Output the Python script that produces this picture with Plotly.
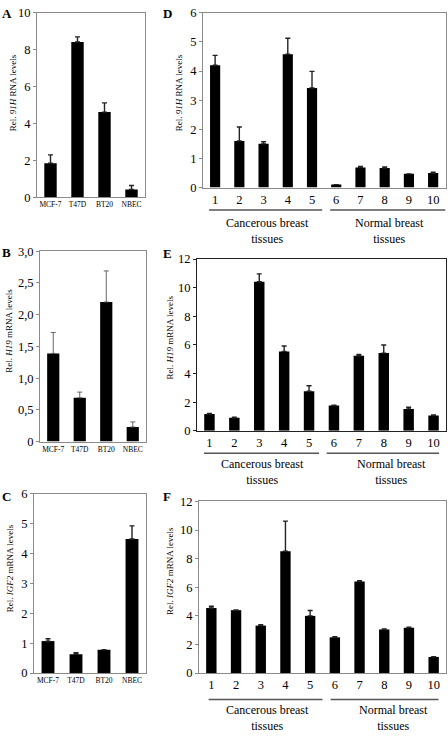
import plotly.graph_objects as go

# ---------------- data ----------------
cell_lines = ["MCF-7", "T47D", "BT20", "NBEC"]
tissues = ["1", "2", "3", "4", "5", "6", "7", "8", "9", "10"]

a_91h = [1.85, 8.42, 4.62, 0.42]
a_91h_err = [0.45, 0.28, 0.50, 0.22]

b_h19 = [1.39, 0.69, 2.20, 0.23]
b_h19_err = [0.33, 0.09, 0.49, 0.08]

c_igf2 = [1.07, 0.63, 0.78, 4.48]
c_igf2_err = [0.08, 0.05, 0.0, 0.44]

d_91h = [4.20, 1.60, 1.50, 4.58, 3.42, 0.10, 0.69, 0.67, 0.47, 0.50]
d_91h_err = [0.34, 0.48, 0.07, 0.55, 0.57, 0.0, 0.03, 0.04, 0.0, 0.03]

e_h19 = [1.17, 0.91, 10.42, 5.55, 2.77, 1.76, 5.24, 5.43, 1.53, 1.07]
e_h19_err = [0.04, 0.04, 0.55, 0.38, 0.38, 0.03, 0.09, 0.57, 0.12, 0.04]

f_igf2 = [4.55, 4.40, 3.32, 8.52, 4.00, 2.50, 6.41, 3.05, 3.17, 1.13]
f_igf2_err = [0.12, 0.02, 0.06, 2.10, 0.38, 0.04, 0.05, 0.03, 0.04, 0.02]

ticks_a = [0, 2, 4, 6, 8, 10]
ticks_b = [0, 0.5, 1.0, 1.5, 2.0, 2.5, 3.0]
ticks_b_text = ["0", "0,5", "1,0", "1,5", "2,0", "2,5", "3,0"]
ticks_c = [0, 1, 2, 3, 4, 5, 6]
ticks_d = [0, 1, 2, 3, 4, 5, 6]
ticks_ef = [0, 2, 4, 6, 8, 10, 12]

group_labels = ["Cancerous breast<br>tissues", "Normal breast<br>tissues"]

# ---------------- layout helpers ----------------
W, H = 448, 737
FONT = "Liberation Serif, Times New Roman, serif"


def px_x(p):
    return p / W


def px_y(p):
    return 1 - p / H


fig = go.Figure()

panels = [
    dict(letter="A", i=1, xp=(37, 145), yp=(6, 194), cats=cell_lines, v=a_91h, e=a_91h_err,
         tv=ticks_a, tt=[str(t) for t in ticks_a], yr=10, frame="#8a8a8a",
         ylab="Rel. <i>91H</i> RNA levels", ylp=(13, 88), lp=(7, 7), thin=False),
    dict(letter="B", i=2, xp=(40, 146), yp=(249, 443), cats=cell_lines, v=b_h19, e=b_h19_err,
         tv=ticks_b, tt=ticks_b_text, yr=3, frame="#8a8a8a",
         ylab="Rel. <i>H19</i> mRNA levels", ylp=(9, 330), lp=(6, 250), thin=True),
    dict(letter="C", i=3, xp=(34, 146), yp=(496, 679), cats=cell_lines, v=c_igf2, e=c_igf2_err,
         tv=ticks_c, tt=[str(t) for t in ticks_c], yr=6, frame="#8a8a8a",
         ylab="Rel. <i>IGF2</i> mRNA levels", ylp=(10, 572), lp=(6, 499), thin=False),
    dict(letter="D", i=4, xp=(203, 446), yp=(6, 184), cats=tissues, v=d_91h, e=d_91h_err,
         tv=ticks_d, tt=[str(t) for t in ticks_d], yr=6, frame="#8a8a8a",
         ylab="Rel. <i>91H</i> RNA levels", ylp=(179, 88), lp=(167, 7), thin=False),
    dict(letter="E", i=5, xp=(197, 446), yp=(257, 432), cats=tissues, v=e_h19, e=e_h19_err,
         tv=ticks_ef, tt=[str(t) for t in ticks_ef], yr=12, frame="#222222",
         ylab="Rel. <i>H19</i> mRNA levels", ylp=(170, 337), lp=(167, 251), thin=False),
    dict(letter="F", i=6, xp=(199, 446), yp=(504, 679), cats=tissues, v=f_igf2, e=f_igf2_err,
         tv=ticks_ef, tt=[str(t) for t in ticks_ef], yr=12, frame="#8a8a8a",
         ylab="Rel. <i>IGF2</i> mRNA levels", ylp=(170, 575), lp=(167, 499), thin=False),
]

annotations = []
shapes = []

for p in panels:
    i = p["i"]
    xa = "x" if i == 1 else f"x{i}"
    ya = "y" if i == 1 else f"y{i}"
    small = len(p["cats"]) == 4
    fig.add_trace(go.Bar(
        x=p["cats"], y=p["v"], xaxis=xa, yaxis=ya,
        marker=dict(color="black", line=dict(width=0)),
        width=0.46 if small else 0.42,
        error_y=dict(type="data", symmetric=False, array=p["e"], arrayminus=[0] * len(p["e"]),
                     color="#555555" if p["thin"] else "#222222",
                     thickness=0.9 if p["thin"] else 1.4, width=2.5),
        showlegend=False,
    ))
    xkey = "xaxis" if i == 1 else f"xaxis{i}"
    ykey = "yaxis" if i == 1 else f"yaxis{i}"
    fig.layout[xkey] = dict(
        domain=[px_x(p["xp"][0]), px_x(p["xp"][1])], anchor=ya,
        showline=True, mirror=True, linecolor=p["frame"], linewidth=1,
        ticks="", showgrid=False, zeroline=False, fixedrange=True,
        tickfont=dict(family=FONT, size=7.5 if small else 12.5, color="black"),
        type="category",
    )
    fig.layout[ykey] = dict(
        domain=[px_y(p["yp"][1]), px_y(p["yp"][0])], anchor=xa,
        range=[0, p["yr"]], tickvals=p["tv"], ticktext=p["tt"],
        showline=True, mirror=True, linecolor=p["frame"], linewidth=1,
        ticks="outside", ticklen=3, tickcolor=p["frame"],
        showgrid=False, zeroline=False, fixedrange=True,
        tickfont=dict(family=FONT, size=12.5, color="black"),
    )
    annotations.append(dict(
        text=p["ylab"], textangle=-90, xref="paper", yref="paper",
        x=px_x(p["ylp"][0]), y=px_y(p["ylp"][1]), xanchor="center", yanchor="middle",
        showarrow=False, font=dict(family=FONT, size=9, color="black"),
    ))
    annotations.append(dict(
        text=f"<b>{p['letter']}</b>", xref="paper", yref="paper",
        x=px_x(p["lp"][0]), y=px_y(p["lp"][1]), xanchor="center", yanchor="middle",
        showarrow=False, font=dict(family=FONT, size=13, color="black"),
    ))

# group underlines and labels for D, E, F
groups = {
    4: dict(line_y=207, lines=[(-0.25, 4.42), (4.75, 9.5)], txt_y=228, cx=[2.15, 7.2]),
    5: dict(line_y=455, lines=[(-0.22, 4.40), (4.71, 9.22)], txt_y=474, cx=[2.15, 7.33]),
    6: dict(line_y=706, lines=[(-0.11, 4.50), (4.83, 9.20)], txt_y=725, cx=[2.29, 7.37]),
}
for i, g in groups.items():
    xa = f"x{i}"
    for (x0, x1) in g["lines"]:
        shapes.append(dict(type="line", xref=xa, yref="paper", x0=x0, x1=x1,
                           y0=px_y(g["line_y"]), y1=px_y(g["line_y"]),
                           line=dict(color="#555555", width=1.5)))
    for cx, lab in zip(g["cx"], group_labels):
        annotations.append(dict(
            text=lab, xref=xa, yref="paper", x=cx, y=px_y(g["txt_y"]),
            xanchor="center", yanchor="middle", showarrow=False,
            font=dict(family=FONT, size=12, color="black"),
        ))

fig.update_layout(
    width=W, height=H, margin=dict(l=0, r=0, t=0, b=0),
    paper_bgcolor="white", plot_bgcolor="white",
    annotations=annotations, shapes=shapes,
    font=dict(family=FONT, color="black"),
    bargap=0.5,
)

fig.write_html(
    "out.html",
    config={"displayModeBar": False},
    post_script="document.body.style.margin='0';document.body.style.overflow='hidden';",
)
